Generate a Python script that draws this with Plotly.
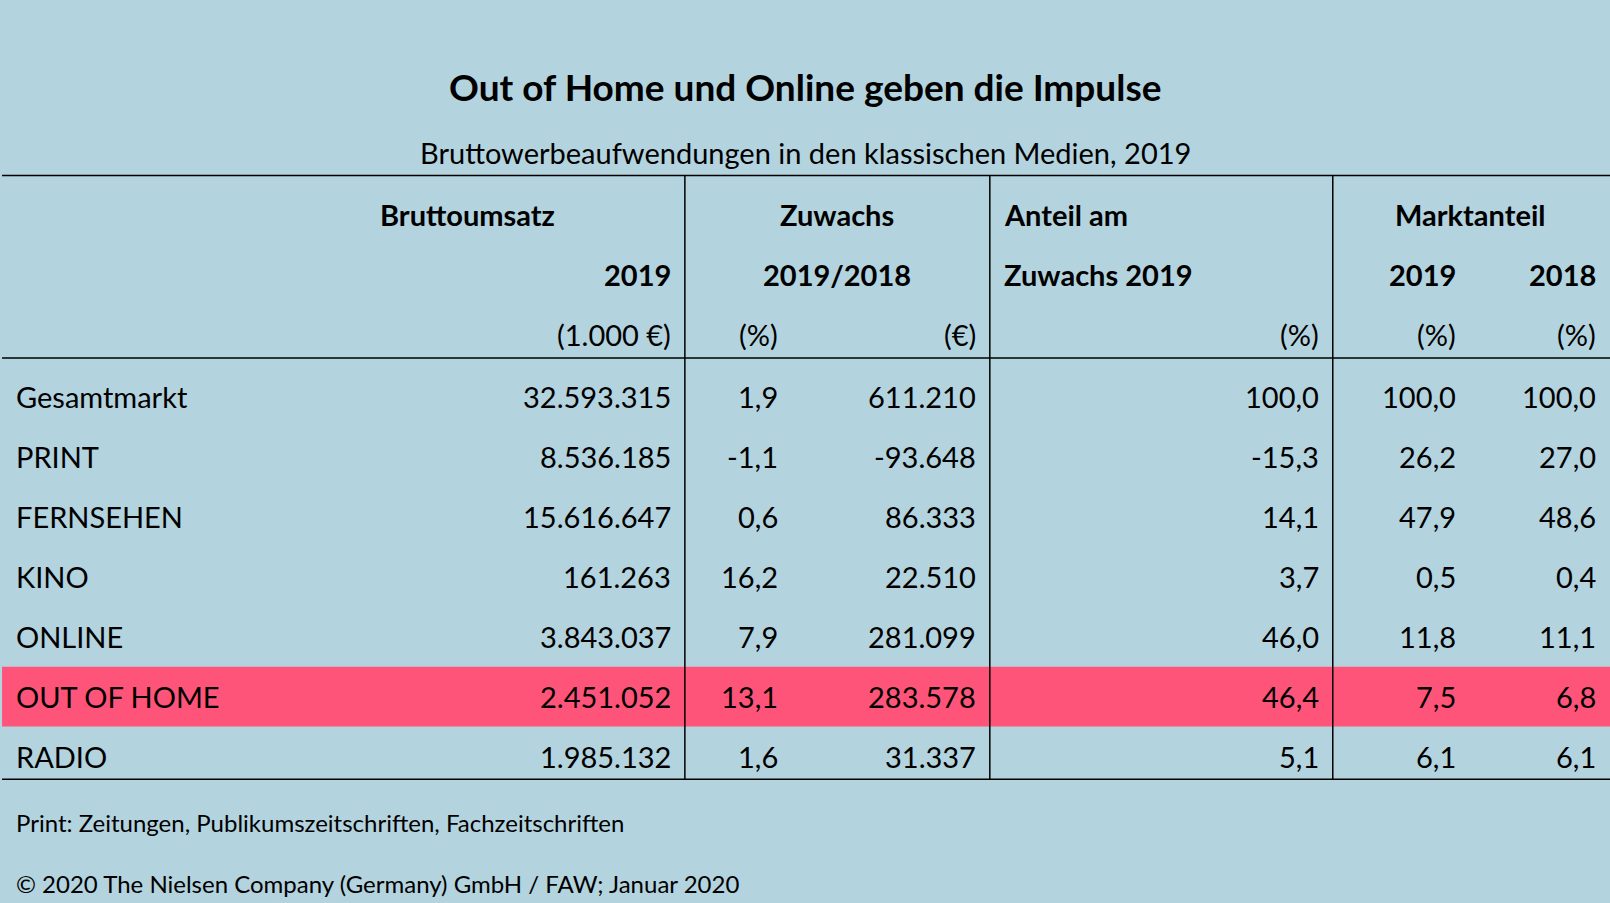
import plotly.graph_objects as go

title = "Out of Home und Online geben die Impulse"
subtitle = "Bruttowerbeaufwendungen in den klassischen Medien, 2019"
media = ["Gesamtmarkt", "PRINT", "FERNSEHEN", "KINO", "ONLINE", "OUT OF HOME", "RADIO"]
umsatz_2019 = ["32.593.315", "8.536.185", "15.616.647", "161.263", "3.843.037", "2.451.052", "1.985.132"]
zuwachs_pct = ["1,9", "-1,1", "0,6", "16,2", "7,9", "13,1", "1,6"]
zuwachs_eur = ["611.210", "-93.648", "86.333", "22.510", "281.099", "283.578", "31.337"]
anteil_zuwachs = ["100,0", "-15,3", "14,1", "3,7", "46,0", "46,4", "5,1"]
markt_2019 = ["100,0", "26,2", "47,9", "0,5", "11,8", "7,5", "6,1"]
markt_2018 = ["100,0", "27,0", "48,6", "0,4", "11,1", "6,8", "6,1"]
highlight = "OUT OF HOME"
footnotes = ["Print: Zeitungen, Publikumszeitschriften, Fachzeitschriften",
             "© 2020 The Nielsen Company (Germany) GmbH / FAW; Januar 2020"]

BG = "#b3d3de"
PINK = "#ff5479"
FONT = "Lato"
BODY = 29

fig = go.Figure()
fig.add_trace(go.Scatter(x=[0, 1568], y=[0, 875], mode="markers", marker=dict(opacity=0), hoverinfo="skip", showlegend=False))

ann = []
def t(x, y, s, anchor="right", size=BODY, bold=False):
    ann.append(dict(x=x, y=y, xref="x", yref="y", text=f"<b>{s}</b>" if bold else s, showarrow=False,
                    xanchor=anchor, yanchor="middle", font=dict(family=FONT, size=size, color="black")))

t(784, 84, title, "center", 37, True)
t(784, 148, subtitle, "center", 29)
t(455, 208, "Bruttoumsatz", "center", BODY, True)
t(655, 266, "2019", "right", BODY, True)
t(655, 324, "(1.000 €)")
t(815, 208, "Zuwachs", "center", BODY, True)
t(815, 266, "2019/2018", "center", BODY, True)
t(760, 324, "(%)")
t(952, 324, "(€)")
t(976, 208, "Anteil am", "left", BODY, True)
t(976, 266, "Zuwachs 2019", "left", BODY, True)
t(1287, 324, "(%)")
t(1432, 208, "Marktanteil", "center", BODY, True)
t(1420, 266, "2019", "right", BODY, True)
t(1556, 266, "2018", "right", BODY, True)
t(1420, 324, "(%)")
t(1556, 324, "(%)")

shapes = []
row_y0 = 384
row_h = 58.2
for i, m in enumerate(media):
    y = row_y0 + i * row_h
    if m == highlight:
        shapes.append(dict(type="rect", xref="x", yref="y", x0=2, x1=1568, y0=y - 29, y1=y + 29,
                           fillcolor=PINK, line_width=0, layer="below"))
    t(14, y, m, "left")
    t(655, y, umsatz_2019[i])
    t(760, y, zuwachs_pct[i])
    t(952, y, zuwachs_eur[i])
    t(1287, y, anteil_zuwachs[i])
    t(1420, y, markt_2019[i])
    t(1556, y, markt_2018[i])

t(14, 797, footnotes[0], "left", 24)
t(14, 856, footnotes[1], "left", 24)

line = dict(color="black", width=1.5)
for yy in [170, 347, 755]:
    shapes.append(dict(type="line", xref="x", yref="y", x0=2, x1=1568, y0=yy, y1=yy, line=line))
for xx in [667, 964, 1298]:
    shapes.append(dict(type="line", xref="x", yref="y", x0=xx, x1=xx, y0=170, y1=755, line=line))

fig.update_layout(width=1610, height=903, margin=dict(l=0, r=0, t=0, b=0),
                  paper_bgcolor=BG, plot_bgcolor=BG, annotations=ann, shapes=shapes,
                  xaxis=dict(range=[0, 1568], visible=False, fixedrange=True),
                  yaxis=dict(range=[875, 0], visible=False, fixedrange=True))
fig.write_html("out.html", config={"displayModeBar": False},
               post_script="document.body.style.margin='0';document.body.style.overflow='hidden';")
